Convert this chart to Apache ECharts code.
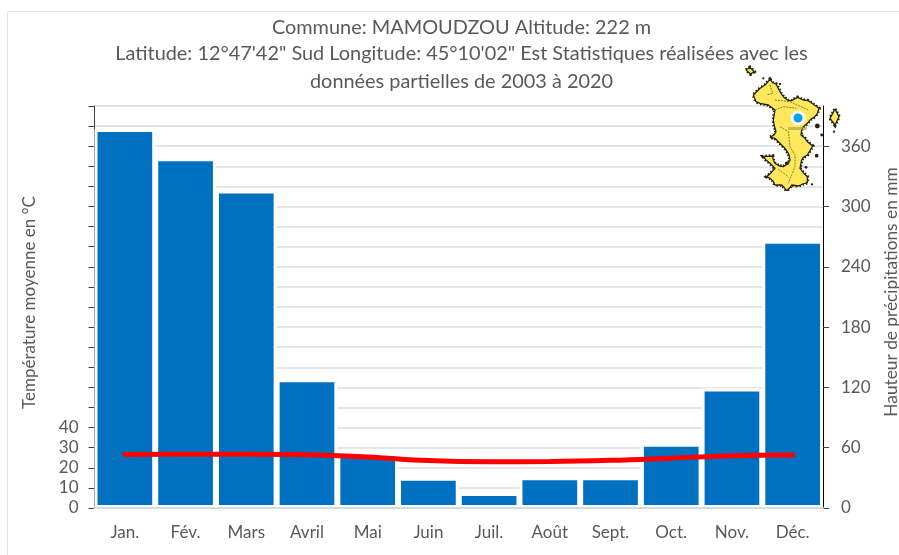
<!DOCTYPE html>
<html><head><meta charset="utf-8">
<style>html,body{margin:0;padding:0;background:#fff}#c{width:899px;height:555px}</style>
<script src="https://cdn.jsdelivr.net/npm/echarts@6/dist/echarts.min.js"></script>
</head><body><div id="c"></div>
<script>
const titleLines = ["Commune: MAMOUDZOU Altitude: 222 m","Latitude: 12°47'42\" Sud Longitude: 45°10'02\" Est Statistiques réalisées avec les","données partielles de 2003 à 2020"];
const titleTops = [13,39,67];
const months = ["Jan.","Fév.","Mars","Avril","Mai","Juin","Juil.","Août","Sept.","Oct.","Nov.","Déc."];
const rainfall = [377,348,316,128,54,30,15,30.5,30.5,64,119,266];
const temperature = [26.6,26.7,26.7,26.5,25.4,23.6,23.0,23.1,23.7,24.8,26.0,26.4];
const leftLabels = [0,10,20,30,40];
const rightTicks = [0,60,120,180,240,300,360];
const islandMain = [[150,58],[158,68],[168,72],[175,85],[183,100],[190,110],[205,122],[215,122],[232,112],[250,120],[265,122],[280,133],[297,145],[292,160],[285,170],[272,178],[262,190],[250,200],[245,210],[243,225],[255,235],[262,245],[278,258],[270,272],[262,285],[250,292],[245,300],[240,325],[250,338],[262,350],[262,368],[248,372],[235,378],[215,375],[208,385],[200,392],[192,382],[185,375],[165,375],[158,362],[150,355],[140,350],[152,340],[165,325],[150,310],[138,300],[130,290],[158,288],[160,300],[165,310],[178,318],[190,320],[205,310],[210,300],[208,288],[205,280],[195,265],[185,255],[165,235],[150,232],[162,225],[168,215],[163,198],[160,180],[165,150],[145,135],[120,130],[108,125],[100,105],[120,85],[135,75]];
const islandEast = [[345,147],[357,170],[345,195],[330,175]];
const islandNorth = [[78,30],[90,22],[102,35],[92,42]];
const communeLines = [[[150,75],[158,100],[140,105]],[[165,120],[210,125],[265,150]],[[165,150],[190,140],[230,145]],[[180,200],[205,215],[210,260],[225,285],[225,320],[205,370]],[[175,328],[205,350]]];
const islets = [[292,198,4],[290,287,3],[305,225,2],[200,310,3],[258,322,2],[276,373,1.5],[130,55,1.5],[180,72,1.5],[342,215,1.5]];
const toMap = p => [720 + p[0]/3, 60 + p[1]/3];
const chart = echarts.init(document.getElementById('c'), null, {renderer:'canvas'});
const font = 'Lato, Carlito, sans-serif';
const grey = '#595959';
const graphics = [
  {type:'polyline', z:1, silent:true, shape:{points:[[7.5,555],[7.5,11.5],[899,11.5]]}, style:{stroke:'#e2e2e2', lineWidth:1, fill:'none'}}
];
[islandMain, islandEast, islandNorth].forEach(s => {
  const pts = s.map(toMap);
  graphics.push({type:'polygon', z:10, shape:{points:pts}, style:{fill:'none', stroke:'#23230f', lineWidth:3.6, lineDash:[1.5,2]}});
  graphics.push({type:'polygon', z:10, shape:{points:pts}, style:{fill:'#ffe85c', stroke:'#23230f', lineWidth:1.3, lineJoin:'bevel'}});
});
communeLines.forEach(l => graphics.push({type:'polyline', z:11, shape:{points:l.map(toMap)}, style:{stroke:'#6b6330', lineWidth:0.8, lineDash:[2,1], fill:'none'}}));
islets.forEach(i => { const c = toMap(i); graphics.push({type:'circle', z:10, shape:{cx:c[0], cy:c[1], r:i[2]/2+0.4}, style:{fill:'#23230f'}}); });
graphics.push({type:'rect', z:11, shape:{x:788,y:127,width:19,height:3}, style:{fill:'#a89a3c', opacity:0.6}});
graphics.push({type:'circle', z:12, shape:{cx:798, cy:118, r:6}, style:{fill:'#00a2e8', stroke:'#ffffff', lineWidth:3}});
chart.setOption({
  animation:false,
  backgroundColor:'#ffffff',
  textStyle:{fontFamily:font},
  title:titleLines.map((t,i) => ({text:t, left:456.5, top:titleTops[i], textAlign:'center',
    textStyle:{fontFamily:font, fontSize:19.9, fontWeight:'normal', color:grey}})),
  grid:{left:94.5, right:76, top:106, bottom:47, outerBoundsMode:'none'},
  xAxis:{type:'category', data:months, z:5, boundaryGap:true,
    axisLine:{lineStyle:{color:'#d9d9d9', width:2}}, axisTick:{show:false},
    axisLabel:{color:grey, fontSize:17, margin:16, fontFamily:font}},
  yAxis:[
    {type:'value', min:0, max:200, interval:10, position:'left',
     name:'Température moyenne en °C', nameLocation:'middle', nameGap:56, nameRotate:90,
     nameTextStyle:{color:grey, fontSize:17, fontFamily:font, padding:[0,0,0,9]},
     axisLine:{show:true, lineStyle:{color:'#404040', width:1}},
     axisTick:{show:true, length:6, lineStyle:{color:'#404040'}},
     axisLabel:{color:grey, fontSize:17, margin:16, fontFamily:font,
       formatter:v => leftLabels.includes(v) ? String(v) : ''},
     splitLine:{show:true, lineStyle:{color:'#dcdcdc', width:1.5}}},
    {type:'value', min:0, max:400, interval:60, position:'right',
     name:'Hauteur de précipitations en mm', nameLocation:'middle', nameGap:60, nameRotate:90,
     nameTextStyle:{color:grey, fontSize:17.3, fontFamily:font, padding:[0,0,0,30]},
     axisLine:{show:true, lineStyle:{color:'#000000', width:1}},
     axisTick:{show:true, length:6, lineStyle:{color:'#404040'}, customValues:rightTicks},
     axisLabel:{color:grey, fontSize:17, margin:18, fontFamily:font, customValues:rightTicks},
     splitLine:{show:false}}
  ],
  series:[
    {name:'Précipitations', type:'bar', yAxisIndex:1, data:rainfall, barCategoryGap:'0%',
     itemStyle:{color:'#0070c0', borderColor:'#ffffff', borderWidth:3}},
    {name:'Température', type:'line', yAxisIndex:0, data:temperature, smooth:0.4, symbol:'none',
     lineStyle:{color:'#ff0000', width:5, cap:'round'}, z:4}
  ],
  graphic:graphics
});
</script></body></html>
